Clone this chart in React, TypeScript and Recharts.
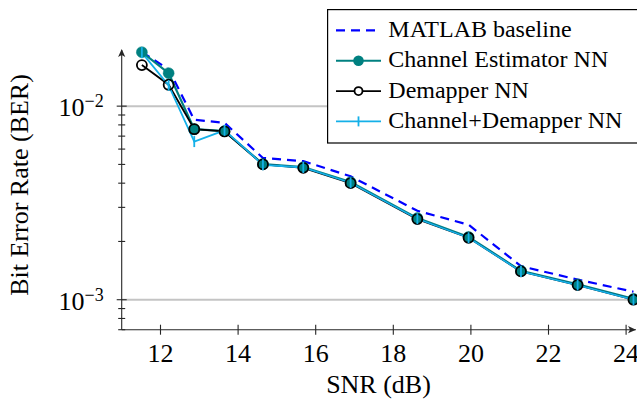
import React from 'react';
import { LineChart, Line, XAxis, YAxis, ReferenceLine, Legend } from 'recharts';

// ---- data ----
const snr = [11.52, 12.21, 12.87, 13.65, 14.64, 15.68, 16.9, 18.62, 19.94, 21.29, 22.75, 24.19];
const matlabBaseline = [0.019, 0.0155, 0.0085, 0.0082, 0.0054, 0.0052, 0.00434, 0.00288, 0.00244, 0.00149, 0.00127, 0.0011];
const channelEstimatorNN = [0.019, 0.0148, 0.0076, 0.00743, 0.00502, 0.00484, 0.00405, 0.00264, 0.00211, 0.00141, 0.0012, 0.00101];
const demapperNN = [0.0163, 0.0129, 0.0076, 0.0074, 0.005, 0.0048, 0.004, 0.00261, 0.00209, 0.0014, 0.00119, 0.001];
const channelDemapperNN = [0.0189, 0.0128, 0.00656, 0.0075, 0.00498, 0.00482, 0.00402, 0.00262, 0.00209, 0.0014, 0.00119, 0.001];

const xTicks = [12, 14, 16, 18, 20, 22, 24];
const yMajorTicks = [0.001, 0.01];
const yMajorLabels = ['\u22123', '\u22122'];
const yMinorTicks = [0.0007, 0.0008, 0.0009, 0.002, 0.003, 0.004, 0.005, 0.006, 0.007, 0.008, 0.009];
const seriesNames = ['MATLAB baseline', 'Channel Estimator NN', 'Demapper NN', 'Channel+Demapper NN'];

const data = snr.map((s, i) => ({
  snr: s,
  matlab: matlabBaseline[i],
  chest: channelEstimatorNN[i],
  demap: demapperNN[i],
  both: channelDemapperNN[i],
}));

const FONT = 'Liberation Serif';
const AXIS = '#262626';
const TEAL = '#008080';
const CYAN = '#14b0e8';
const BLUE = '#0000ff';

const W = 637;
const H = 402;
const M = { top: 50, right: 1.2, bottom: 42.3, left: 61.7 };
const YW = 60;
const XH = 30;

const txt = (size: number) => ({ fontFamily: FONT, fontSize: size });

const XTick = (props: any) => {
  const { x, y, payload } = props;
  return (
    <g>
      <line x1={x} x2={x} y1={y - 5} y2={y + 5} stroke={AXIS} strokeWidth={1.1} />
      <text x={x} y={y + 32.6} textAnchor="middle" style={txt(26)} fill="#000">
        {payload.value}
      </text>
    </g>
  );
};

const YTick = (props: any) => {
  const { x, y, payload } = props;
  const idx = yMajorTicks.indexOf(payload.value);
  if (idx < 0) {
    return <line x1={x - 3.5} x2={x + 3.5} y1={y} y2={y} stroke={AXIS} strokeWidth={1.1} />;
  }
  return (
    <g>
      <line x1={x - 5} x2={x + 5} y1={y} y2={y} stroke={AXIS} strokeWidth={1.1} />
      <text x={x - 18} y={y + 10} textAnchor="end" style={txt(26)} fill="#000">
        10
        <tspan dy={-9} style={txt(18)}>{yMajorLabels[idx]}</tspan>
      </text>
    </g>
  );
};

const BarDot = (props: any) => {
  const { cx, cy } = props;
  if (cx == null || cy == null) return null;
  return <line x1={cx} x2={cx} y1={cy - 5.5} y2={cy + 5.5} stroke={CYAN} strokeWidth={1.8} />;
};

const LegendBox = () => {
  const rows = [0, 1, 2, 3];
  return (
    <svg width={311} height={135} style={{ display: 'block' }}>
      <rect x={0.6} y={0.6} width={330} height={133.4} fill="#fff" stroke="#000" strokeWidth={1.2} />
      {rows.map((i) => {
        const cy = 21.4 + i * 30.33;
        return (
          <g key={i}>
            {i === 0 && <line x1={9} x2={54} y1={cy} y2={cy} stroke={BLUE} strokeWidth={2.2} strokeDasharray="9 6" />}
            {i === 1 && (
              <g>
                <line x1={9} x2={54} y1={cy} y2={cy} stroke={TEAL} strokeWidth={2.2} />
                <circle cx={31.5} cy={cy} r={5.3} fill={TEAL} />
              </g>
            )}
            {i === 2 && (
              <g>
                <line x1={9} x2={54} y1={cy} y2={cy} stroke="#000" strokeWidth={1.8} />
                <circle cx={31.5} cy={cy} r={4} fill="#fff" stroke="#000" strokeWidth={1.8} />
              </g>
            )}
            {i === 3 && (
              <g>
                <line x1={9} x2={54} y1={cy} y2={cy} stroke={CYAN} strokeWidth={1.8} />
                <line x1={31.5} x2={31.5} y1={cy - 5} y2={cy + 5} stroke={CYAN} strokeWidth={1.8} />
              </g>
            )}
            <text x={61.3} y={cy + 6.5} style={txt(24)} fill="#000">
              {seriesNames[i]}
            </text>
          </g>
        );
      })}
    </svg>
  );
};

export default function App() {
  const plotLeft = M.left + YW;
  const plotBottom = H - M.bottom - XH;
  return (
    <div style={{ position: 'absolute', left: 0, top: 0, width: W, height: H, background: '#fff', fontFamily: FONT }}>
      <LineChart width={W} height={H} data={data} margin={M} style={{ fontFamily: FONT }}>
        <XAxis
          dataKey="snr"
          type="number"
          domain={[11, 24.25]}
          ticks={xTicks}
          interval={0}
          height={XH}
          tickSize={0}
          tickMargin={0}
          tickLine={false}
          axisLine={{ stroke: AXIS, strokeWidth: 1.1 }}
          tick={<XTick />}
          label={{
            content: () => (
              <text x={378.5} y={393} textAnchor="middle" style={txt(26)} fill="#000">
                SNR (dB)
              </text>
            ),
          }}
        />
        <YAxis
          type="number"
          scale="log"
          domain={[0.0007, 0.0195]}
          ticks={[...yMinorTicks, ...yMajorTicks]}
          interval={0}
          width={YW}
          tickSize={0}
          tickMargin={0}
          tickLine={false}
          axisLine={{ stroke: AXIS, strokeWidth: 1.1 }}
          tick={<YTick />}
          label={{
            content: () => (
              <text
                x={28}
                y={185}
                transform="rotate(-90 28 185)"
                textAnchor="middle"
                style={txt(26)}
                fill="#000"
              >
                Bit Error Rate (BER)
              </text>
            ),
          }}
        />
        {yMajorTicks.map((v) => (
          <ReferenceLine key={v} y={v} stroke="#c4c4c4" strokeWidth={2} />
        ))}
        <Legend
          layout="horizontal"
          verticalAlign="middle"
          align="center"
          wrapperStyle={{ position: 'absolute', left: 327, top: 9, width: 311, height: 135 }}
          content={() => <LegendBox />}
        />
        <Line
          dataKey="matlab"
          name={seriesNames[0]}
          stroke={BLUE}
          strokeWidth={2.2}
          strokeDasharray="9 6"
          dot={false}
          activeDot={false}
          isAnimationActive={false}
        />
        <Line
          dataKey="chest"
          name={seriesNames[1]}
          stroke={TEAL}
          strokeWidth={2.2}
          dot={{ r: 5.5, fill: TEAL, stroke: TEAL, strokeWidth: 0.5 }}
          activeDot={false}
          isAnimationActive={false}
        />
        <Line
          dataKey="demap"
          name={seriesNames[2]}
          stroke="#000"
          strokeWidth={1.8}
          dot={{ r: 5, fill: 'none', stroke: '#000', strokeWidth: 1.8 }}
          activeDot={false}
          isAnimationActive={false}
        />
        <Line
          dataKey="both"
          name={seriesNames[3]}
          stroke={CYAN}
          strokeWidth={1.8}
          dot={<BarDot />}
          activeDot={false}
          isAnimationActive={false}
        />
      </LineChart>
      <svg
        width={W}
        height={H}
        style={{ position: 'absolute', left: 0, top: 0, pointerEvents: 'none' }}
      >
        <path
          d={`M${W - 1},${plotBottom} L${W - 9},${plotBottom - 3.6} L${W - 7},${plotBottom} L${W - 9},${plotBottom + 3.6} Z`}
          fill={AXIS}
        />
        <path
          d={`M${plotLeft},${M.top - 1} L${plotLeft - 3.6},${M.top + 7} L${plotLeft},${M.top + 5} L${plotLeft + 3.6},${M.top + 7} Z`}
          fill={AXIS}
        />
      </svg>
    </div>
  );
}
